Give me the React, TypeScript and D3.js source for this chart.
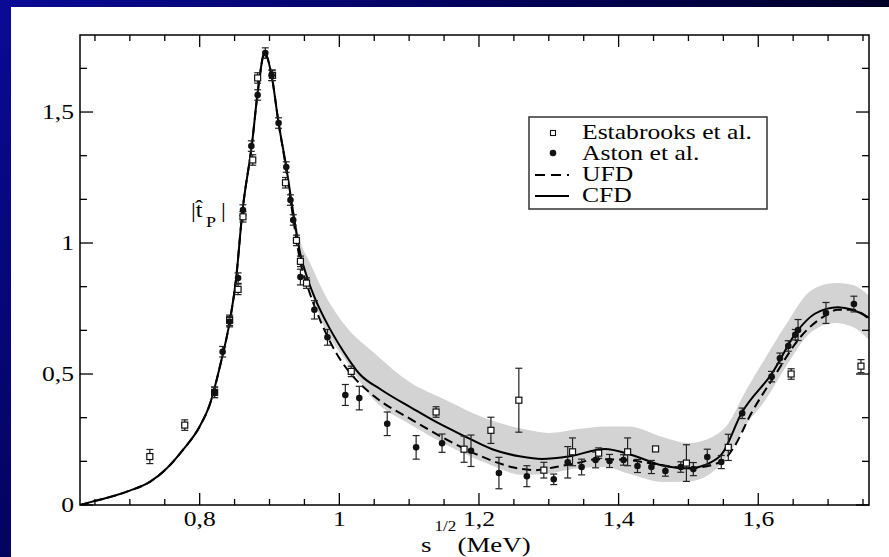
import React, { useEffect, useRef } from 'react';
import * as d3 from 'd3';

// CFD fit (solid line): [sqrt(s), |t_P|]
const cfdCurve: [number, number][] = [
  [0.6286, 0], [0.645, 0.012], [0.66, 0.022], [0.68, 0.037], [0.70, 0.055], [0.7286, 0.088],
  [0.753, 0.14], [0.776, 0.21], [0.80, 0.30], [0.814, 0.38], [0.83, 0.54], [0.843, 0.70],
  [0.852, 0.86], [0.861, 1.115], [0.875, 1.38], [0.884, 1.595],
  [0.893, 1.725], [0.903, 1.64], [0.913, 1.458], [0.924, 1.29], [0.932, 1.15], [0.944, 0.96],
  [0.955, 0.86], [0.965, 0.79], [0.985, 0.68], [1.005, 0.59], [1.029, 0.50], [1.06, 0.44],
  [1.104, 0.37], [1.14, 0.315], [1.176, 0.267], [1.219, 0.213], [1.26, 0.185], [1.29, 0.176],
  [1.33, 0.186], [1.38, 0.214], [1.42, 0.19], [1.46, 0.153], [1.50, 0.14], [1.53, 0.16],
  [1.548, 0.195], [1.576, 0.35], [1.619, 0.50], [1.657, 0.668], [1.681, 0.73], [1.714, 0.755],
  [1.735, 0.745], [1.7586, 0.715],
];

// UFD fit (dashed line)
const ufdCurve: [number, number][] = [
  [0.6286, 0], [0.645, 0.012], [0.66, 0.022], [0.68, 0.037], [0.70, 0.055], [0.7286, 0.088],
  [0.753, 0.14], [0.776, 0.21], [0.80, 0.30], [0.814, 0.38], [0.83, 0.54], [0.843, 0.70],
  [0.852, 0.86], [0.861, 1.115], [0.875, 1.38], [0.884, 1.595],
  [0.893, 1.725], [0.903, 1.64], [0.913, 1.458], [0.924, 1.28], [0.932, 1.13], [0.944, 0.93],
  [0.955, 0.83], [0.975, 0.69], [0.999, 0.565], [1.02, 0.49], [1.05, 0.415], [1.104, 0.325],
  [1.15, 0.255], [1.204, 0.185], [1.25, 0.143], [1.28, 0.133], [1.31, 0.145], [1.34, 0.16],
  [1.37, 0.175], [1.41, 0.172], [1.46, 0.153], [1.50, 0.14], [1.547, 0.165], [1.565, 0.22],
  [1.59, 0.35], [1.625, 0.50], [1.66, 0.64], [1.694, 0.72], [1.714, 0.745], [1.735, 0.745],
  [1.7586, 0.71],
];

// CFD error band
const bandS = [0.925, 0.93, 0.945, 0.957, 0.98, 1.01, 1.05, 1.10, 1.153, 1.21, 1.264, 1.30,
  1.343, 1.38, 1.414, 1.463, 1.50, 1.534, 1.557, 1.581, 1.61, 1.64, 1.676, 1.71, 1.735, 1.7586];
const bandHi = [1.29, 1.20, 1.0, 0.93, 0.80, 0.68, 0.58, 0.47, 0.40, 0.33, 0.29, 0.275,
  0.29, 0.30, 0.30, 0.26, 0.237, 0.26, 0.31, 0.43, 0.56, 0.69, 0.82, 0.847, 0.84, 0.80];
const bandLo = [1.26, 1.15, 0.93, 0.83, 0.67, 0.55, 0.40, 0.31, 0.23, 0.16, 0.115, 0.12,
  0.14, 0.145, 0.12, 0.088, 0.09, 0.125, 0.19, 0.30, 0.40, 0.53, 0.66, 0.695, 0.68, 0.63];

// Estabrooks et al. [s, value, error]
const estabrooks: [number, number, number][] = [
  [0.7286, 0.185, 0.027], [0.7786, 0.305, 0.02], [0.8214, 0.43, 0.02], [0.8429, 0.705, 0.02],
  [0.855, 0.823, 0.02], [0.862, 1.10, 0.02], [0.876, 1.317, 0.02], [0.883, 1.63, 0.02],
  [0.9043, 1.64, 0.02], [0.9229, 1.23, 0.02], [0.9386, 1.01, 0.02], [0.9443, 0.93, 0.02],
  [0.953, 0.847, 0.02], [1.0171, 0.51, 0.02], [1.1386, 0.355, 0.02], [1.1786, 0.213, 0.05],
  [1.2171, 0.285, 0.05], [1.2571, 0.40, 0.122], [1.2929, 0.133, 0.03], [1.334, 0.203, 0.053],
  [1.3714, 0.198, 0.02], [1.4129, 0.203, 0.053], [1.4529, 0.214, 0], [1.4971, 0.16, 0.07],
  [1.5571, 0.22, 0.05], [1.6471, 0.50, 0.02], [1.7471, 0.53, 0.025],
];

// Aston et al. [s, value, error]
const aston: [number, number, number][] = [
  [0.8214, 0.43, 0.02], [0.8329, 0.585, 0.02], [0.8429, 0.70, 0.02], [0.855, 0.866, 0.02],
  [0.862, 1.126, 0.02], [0.874, 1.37, 0.02], [0.883, 1.565, 0.02], [0.894, 1.725, 0.02],
  [0.903, 1.64, 0.02], [0.913, 1.458, 0.02], [0.924, 1.29, 0.02], [0.93, 1.164, 0.02],
  [0.934, 1.088, 0.02], [0.9443, 0.87, 0.03], [0.9643, 0.745, 0.035], [0.983, 0.64, 0.03],
  [1.0086, 0.42, 0.04], [1.0286, 0.408, 0.045], [1.0686, 0.31, 0.045], [1.11, 0.22, 0.045],
  [1.1471, 0.236, 0.035], [1.1886, 0.207, 0.06], [1.2286, 0.122, 0.06], [1.2686, 0.11, 0.04],
  [1.3071, 0.098, 0.02], [1.3271, 0.163, 0.06], [1.347, 0.145, 0.03], [1.367, 0.172, 0.03],
  [1.387, 0.168, 0.025], [1.407, 0.172, 0.02], [1.427, 0.149, 0.025], [1.447, 0.145, 0.025],
  [1.467, 0.13, 0.02], [1.489, 0.145, 0.02], [1.507, 0.137, 0.025], [1.527, 0.183, 0.03],
  [1.547, 0.164, 0.025], [1.577, 0.35, 0.02], [1.619, 0.49, 0.02], [1.631, 0.56, 0.02],
  [1.643, 0.607, 0.02], [1.653, 0.65, 0.02], [1.657, 0.668, 0.04], [1.697, 0.733, 0.04],
  [1.737, 0.767, 0.03],
];

const xMajor = [0.8, 1, 1.2, 1.4, 1.6];
const xLabels = ['0,8', '1', '1,2', '1,4', '1,6'];
const yMajor = [0, 0.5, 1, 1.5];
const yLabels = ['0', '0,5', '1', '1,5'];
const legendItems = ['Estabrooks et al.', 'Aston et al.', 'UFD', 'CFD'];

const FONT = '"Liberation Serif", "Times New Roman", serif';
const STRETCH = 1.22;

export default function App() {
  const ref = useRef<SVGSVGElement | null>(null);

  useEffect(() => {
    document.body.style.margin = '0';
    document.body.style.overflow = 'hidden';

    const svg = d3.select(ref.current);
    svg.selectAll('*').remove();

    const W = 889, H = 557;
    const left = 80, right = 869, top = 35, bottom = 505;

    const x = d3.scaleLinear().domain([0.6286, 1.7586]).range([left, right]);
    const y = d3.scaleLinear().domain([0, 1.794]).range([bottom, top]);

    // background gradient + white panel
    const defs = svg.append('defs');
    const grad = defs.append('linearGradient').attr('id', 'bg')
      .attr('gradientUnits', 'userSpaceOnUse')
      .attr('x1', 0).attr('y1', 0).attr('x2', 700).attr('y2', 557);
    grad.append('stop').attr('offset', '0%').attr('stop-color', '#0a0a96');
    grad.append('stop').attr('offset', '55%').attr('stop-color', '#00004a');
    grad.append('stop').attr('offset', '100%').attr('stop-color', '#00000c');
    svg.append('rect').attr('width', W).attr('height', H).attr('fill', 'url(#bg)');
    svg.append('rect').attr('x', 11).attr('y', 7).attr('width', W + 20).attr('height', H + 20).attr('fill', '#fff');

    const clip = defs.append('clipPath').attr('id', 'plotclip');
    clip.append('rect').attr('x', left).attr('y', top).attr('width', right - left).attr('height', bottom - top);

    const plot = svg.append('g').attr('clip-path', 'url(#plotclip)');

    // error band
    const bandData = bandS.map((s, i) => ({ s, lo: bandLo[i], hi: bandHi[i] }));
    const area = d3.area<{ s: number; lo: number; hi: number }>()
      .x(d => x(d.s)).y0(d => y(d.lo)).y1(d => y(d.hi))
      .curve(d3.curveMonotoneX);
    plot.append('path').datum(bandData).attr('fill', '#d3d3d3').attr('d', area);

    const line = d3.line<[number, number]>()
      .x(d => x(d[0])).y(d => y(d[1]))
      .curve(d3.curveMonotoneX);

    plot.append('path').datum(ufdCurve)
      .attr('fill', 'none').attr('stroke', '#000').attr('stroke-width', 2)
      .attr('stroke-dasharray', '9,5').attr('d', line);
    plot.append('path').datum(cfdCurve)
      .attr('fill', 'none').attr('stroke', '#000').attr('stroke-width', 2)
      .attr('d', line);

    // error bars
    const drawErr = (data: [number, number, number][]) => {
      data.filter(d => d[2] > 0).forEach(d => {
        const cx = x(d[0]);
        const y0 = y(d[1] - d[2]);
        const y1 = y(d[1] + d[2]);
        const g = plot.append('g').attr('stroke', '#222').attr('stroke-width', 1.2);
        g.append('line').attr('x1', cx).attr('x2', cx).attr('y1', y0).attr('y2', y1);
        g.append('line').attr('x1', cx - 3.5).attr('x2', cx + 3.5).attr('y1', y0).attr('y2', y0);
        g.append('line').attr('x1', cx - 3.5).attr('x2', cx + 3.5).attr('y1', y1).attr('y2', y1);
      });
    };
    drawErr(estabrooks);
    drawErr(aston);

    plot.selectAll('rect.est').data(estabrooks).enter().append('rect')
      .attr('class', 'est')
      .attr('x', d => x(d[0]) - 3).attr('y', d => y(d[1]) - 3)
      .attr('width', 6).attr('height', 6)
      .attr('fill', '#fff').attr('stroke', '#111').attr('stroke-width', 1.2);

    const dot = d3.symbol().type(d3.symbolCircle).size(34);
    plot.selectAll('path.aston').data(aston).enter().append('path')
      .attr('class', 'aston')
      .attr('transform', d => `translate(${x(d[0])},${y(d[1])})`)
      .attr('d', dot()).attr('fill', '#111');

    // frame
    svg.append('rect').attr('x', left).attr('y', top)
      .attr('width', right - left).attr('height', bottom - top)
      .attr('fill', 'none').attr('stroke', '#000').attr('stroke-width', 1.5);

    // ticks
    const ticks = svg.append('g').attr('stroke', '#000').attr('stroke-width', 1.3);
    const xMinor = d3.range(13, 36).map(i => i * 0.05).filter(v => !xMajor.some(m => Math.abs(m - v) < 1e-6));
    const yMinor = d3.range(1, 11).map(i => i / 6).filter(v => !yMajor.some(m => Math.abs(m - v) < 1e-6));
    const tickX = (vals: number[], len: number) => vals.forEach(v => {
      const px = x(v);
      ticks.append('line').attr('x1', px).attr('x2', px).attr('y1', bottom).attr('y2', bottom - len);
      ticks.append('line').attr('x1', px).attr('x2', px).attr('y1', top).attr('y2', top + len);
    });
    const tickY = (vals: number[], len: number) => vals.forEach(v => {
      const py = y(v);
      ticks.append('line').attr('x1', left).attr('x2', left + len).attr('y1', py).attr('y2', py);
      ticks.append('line').attr('x1', right).attr('x2', right - len).attr('y1', py).attr('y2', py);
    });
    tickX(xMajor, 12);
    tickX(xMinor, 6);
    tickY(yMajor, 13);
    tickY(yMinor, 7);

    const label = (tx: number, ty: number, text: string, size: number, anchor = 'middle') =>
      svg.append('text')
        .attr('transform', `translate(${tx},${ty}) scale(${STRETCH},1)`)
        .attr('text-anchor', anchor)
        .attr('font-family', FONT).attr('font-size', size).attr('fill', '#000')
        .text(text);

    xMajor.forEach((v, i) => label(x(v), 526, xLabels[i], 21));
    yMajor.forEach((v, i) => label(74, y(v) + 7, yLabels[i], 21, 'end'));

    // x axis title: s^{1/2}(MeV)
    const xt = svg.append('text')
      .attr('transform', `translate(421,552) scale(${STRETCH},1)`)
      .attr('font-family', FONT).attr('font-size', 22).attr('fill', '#000');
    xt.append('tspan').attr('x', 0).text('s');
    xt.append('tspan').attr('x', 11).attr('dy', -21).attr('font-size', 14).text('1/2');
    xt.append('tspan').attr('x', 30).attr('dy', 21).text('(MeV)');

    // y title |t̂_P|
    const yt = svg.append('text')
      .attr('transform', 'translate(191,217) scale(1.2,1)')
      .attr('font-family', FONT).attr('font-size', 20).attr('fill', '#000');
    yt.append('tspan').attr('x', 0).text('|t\u0302');
    yt.append('tspan').attr('x', 12.5).attr('dy', 10).attr('font-size', 15).text('P');
    yt.append('tspan').attr('x', 25).attr('dy', -10).text('|');

    // legend
    const lg = svg.append('g');
    lg.append('rect').attr('x', 529).attr('y', 117).attr('width', 238).attr('height', 92)
      .attr('fill', '#fff').attr('stroke', '#333').attr('stroke-width', 1.5);
    const rows = [139, 160, 181, 202];
    legendItems.forEach((t, i) => label(582, rows[i], t, 21, 'start'));
    lg.append('rect').attr('x', 550.5).attr('y', 130.5).attr('width', 5).attr('height', 5)
      .attr('fill', '#fff').attr('stroke', '#111').attr('stroke-width', 1.1);
    lg.append('path').attr('transform', 'translate(553,153)').attr('d', dot()).attr('fill', '#111');
    lg.append('line').attr('x1', 535).attr('x2', 569).attr('y1', 175).attr('y2', 175)
      .attr('stroke', '#000').attr('stroke-width', 1.8).attr('stroke-dasharray', '10,6');
    lg.append('line').attr('x1', 535).attr('x2', 569).attr('y1', 196).attr('y2', 196)
      .attr('stroke', '#000').attr('stroke-width', 1.8);

    return () => { svg.selectAll('*').remove(); };
  }, []);

  return (
    <svg
      ref={ref}
      width={889}
      height={557}
      style={{ position: 'absolute', left: 0, top: 0, display: 'block' }}
    />
  );
}
